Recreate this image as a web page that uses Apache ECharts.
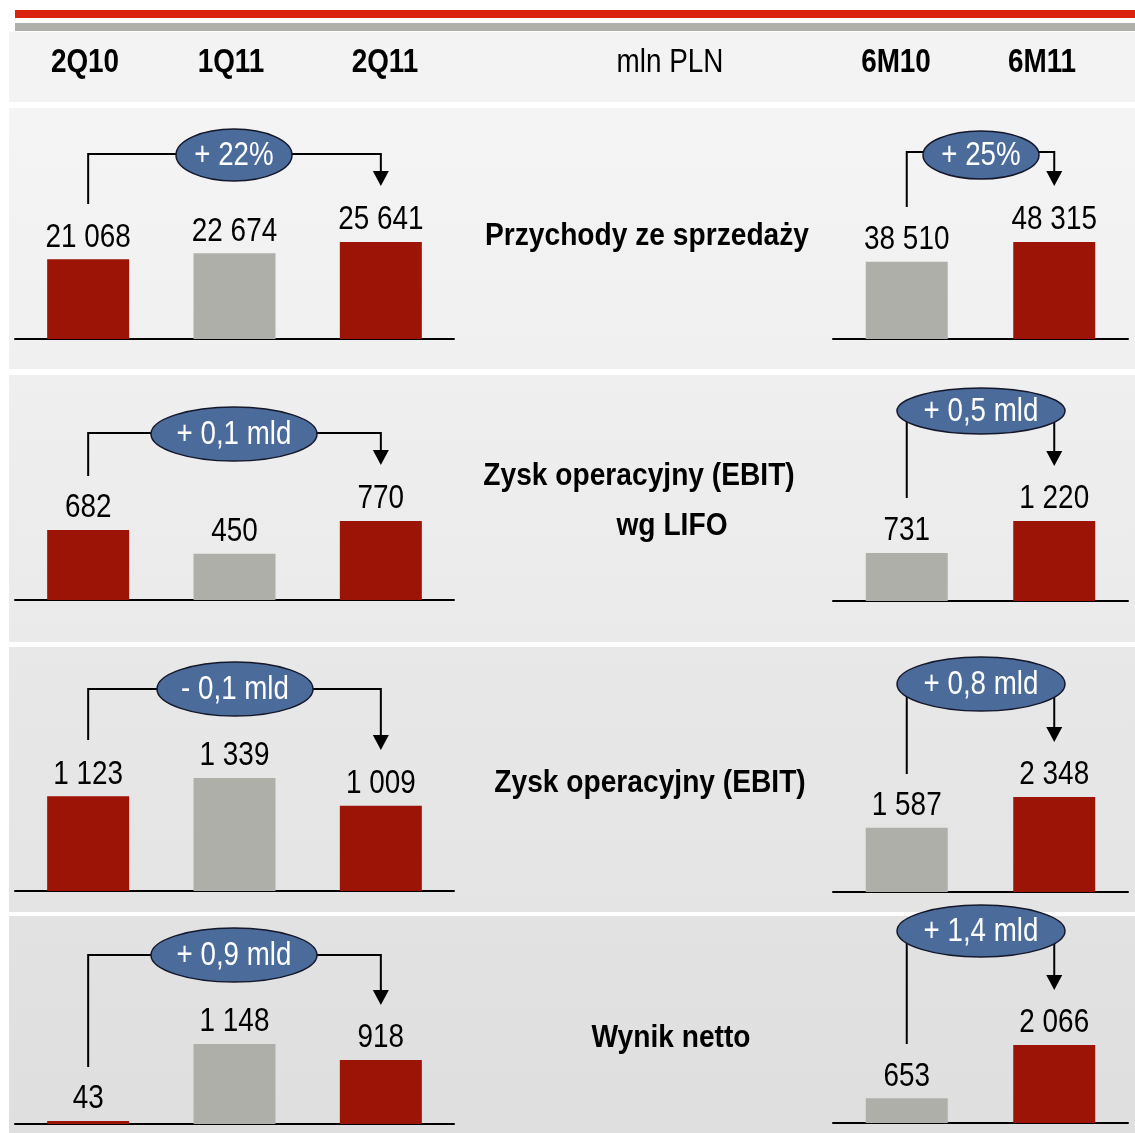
<!DOCTYPE html>
<html>
<head>
<meta charset="utf-8">
<script src="https://cdn.jsdelivr.net/npm/echarts@6/dist/echarts.min.js"></script>
<style>
  html, body { margin: 0; padding: 0; background: #fff; }
  #chart { width: 1135px; height: 1133px; }
</style>
</head>
<body>
<div id="chart"></div>
<script>
const quarters = ["2Q10", "1Q11", "2Q11"];
const halves = ["6M10", "6M11"];
const unitLabel = "mln PLN";
const metrics = ["Przychody ze sprzedaży", "Zysk operacyjny (EBIT)", "Zysk operacyjny (EBIT)", "Wynik netto"];
const metricSub = ["", "wg LIFO", "", ""];

const revenueQ = [21068, 22674, 25641];
const revenueH = [38510, 48315];
const ebitLifoQ = [682, 450, 770];
const ebitLifoH = [731, 1220];
const ebitQ = [1123, 1339, 1009];
const ebitH = [1587, 2348];
const netQ = [43, 1148, 918];
const netH = [653, 2066];

const changeQ = ["+ 22%", "+ 0,1 mld", "- 0,1 mld", "+ 0,9 mld"];
const changeH = ["+ 25%", "+ 0,5 mld", "+ 0,8 mld", "+ 1,4 mld"];

const seriesQ = [revenueQ, ebitLifoQ, ebitQ, netQ];
const seriesH = [revenueH, ebitLifoH, ebitH, netH];

const RED = "#9b1405";
const GREY = "#afafaa";
const BLUE = "#4b6b9b";
// no narrow font installed: Arial-metric Liberation Sans squeezed horizontally
const FONT = "'Liberation Sans', Arial, sans-serif";
const SQUEEZE = 0.82;

// panel layout (pixels)
const rows = [
  { top: 108, bottom: 369, c1: "#f4f4f4", c2: "#f0f0f0", baseQ: 339, baseH: 339, maxQ: 52870, maxH: 99620, titleY: 236, titleX: 647,
    q: { startY: 204, lineY: 154, cx: 234, cy: 155, rx: 58, ry: 26, tipY: 186 },
    h: { startY: 207, lineY: 152, cx: 981, cy: 155, rx: 58, ry: 24, tipY: 186 } },
  { top: 375, bottom: 642, c1: "#efefef", c2: "#eaeaea", baseQ: 600, baseH: 601, maxQ: 1949, maxH: 3050, titleY: 476, titleX: 639,
    q: { startY: 476, lineY: 433, cx: 234, cy: 434, rx: 83, ry: 27, tipY: 465 },
    h: { startY: 498, lineY: 411, cx: 981, cy: 411, rx: 84, ry: 23, tipY: 466 } },
  { top: 647, bottom: 912, c1: "#e8e8e8", c2: "#e4e4e4", baseQ: 891, baseH: 892, maxQ: 2370, maxH: 4943, titleY: 783, titleX: 650,
    q: { startY: 740, lineY: 689, cx: 235, cy: 689, rx: 78, ry: 27, tipY: 750 },
    h: { startY: 774, lineY: 684, cx: 981, cy: 684, rx: 84, ry: 27, tipY: 742 } },
  { top: 916, bottom: 1133, c1: "#e2e2e2", c2: "#dfdfdf", baseQ: 1124, baseH: 1123, maxQ: 2870, maxH: 5297, titleY: 1038, titleX: 671,
    q: { startY: 1067, lineY: 955, cx: 234, cy: 955, rx: 83, ry: 27, tipY: 1005 },
    h: { startY: 1044, lineY: 931, cx: 981, cy: 931, rx: 84, ry: 26, tipY: 990 } }
];

const GRID_H = 200;
const fmt = (v) => String(v).replace(/\B(?=(\d{3})+(?!\d))/g, " ");

function narrowText(x, y, text, size, weight, fill, valign, z, squeeze) {
  return {
    type: "text", z: z || 5, x, y, scaleX: squeeze || SQUEEZE, silent: true,
    style: { text, fill, font: `${weight} ${size}px ${FONT}`, textAlign: "center", textVerticalAlign: valign || "middle" }
  };
}

const chart = echarts.init(document.getElementById("chart"), null, { renderer: "canvas" });

const grids = [], xAxes = [], yAxes = [], series = [], labelSets = [];
rows.forEach((row, r) => {
  [[row.baseQ, row.maxQ, quarters, seriesQ[r], 15, 439, [RED, GREY, RED]],
   [row.baseH, row.maxH, halves, seriesH[r], 833, 295, [GREY, RED]]].forEach(([base, max, cats, vals, left, width, colors]) => {
    const idx = grids.length;
    grids.push({ left, width, top: base - GRID_H, height: GRID_H });
    xAxes.push({
      type: "category", gridIndex: idx, data: cats,
      axisLine: { lineStyle: { color: "#000", width: 2 } },
      axisTick: { show: false }, axisLabel: { show: false }
    });
    yAxes.push({ type: "value", gridIndex: idx, min: 0, max, show: false, splitLine: { show: false } });
    series.push({
      type: "bar", xAxisIndex: idx, yAxisIndex: idx, barWidth: 82,
      data: vals,
      itemStyle: { color: (p) => colors[p.dataIndex] },
      label: { show: false },
      silent: true
    });
    labelSets.push({ idx, cats, vals });
  });
});

const graphics = [
  { type: "rect", z: -10, shape: { x: 15, y: 10, width: 1120, height: 8 }, style: { fill: "#d9230f" } },
  { type: "rect", z: -10, shape: { x: 15, y: 23, width: 1120, height: 8 }, style: { fill: "#b0b0aa" } },
  { type: "rect", z: -10, shape: { x: 9, y: 32, width: 1126, height: 70 }, style: { fill: "#f3f3f3" } }
];

[[quarters[0], 85, "bold"], [quarters[1], 231, "bold"], [quarters[2], 385, "bold"],
 [unitLabel, 670, "normal"], [halves[0], 896, "bold"], [halves[1], 1042, "bold"]].forEach(([t, x, w]) => {
  graphics.push(narrowText(x, 63, t, 34, w, "#000"));
});

function connector(c, leftX, rightX, label) {
  return [
    {
      type: "polyline", z: 5,
      shape: { points: [[leftX, c.startY], [leftX, c.lineY], [c.cx, c.lineY], [rightX, c.lineY], [rightX, c.tipY - 14]] },
      style: { stroke: "#000", lineWidth: 2, fill: null }
    },
    {
      type: "polygon", z: 5,
      shape: { points: [[rightX - 8, c.tipY - 15], [rightX + 8, c.tipY - 15], [rightX, c.tipY]] },
      style: { fill: "#000" }
    },
    {
      type: "ellipse", z: 6,
      shape: { cx: c.cx, cy: c.cy, rx: c.rx, ry: c.ry },
      style: { fill: BLUE, stroke: "#15182a", lineWidth: 1.5 }
    },
    narrowText(c.cx, c.cy + 1, label, 33, "normal", "#fff", "middle", 7, 0.84)
  ];
}

chart.setOption({
  backgroundColor: "#fff",
  animation: false,
  grid: grids, xAxis: xAxes, yAxis: yAxes, series
});

rows.forEach((row, r) => {
  const gq = r * 2, gh = r * 2 + 1;
  const qL = chart.convertToPixel({ xAxisIndex: gq }, quarters[0]);
  const qR = chart.convertToPixel({ xAxisIndex: gq }, quarters[2]);
  const hL = chart.convertToPixel({ xAxisIndex: gh }, halves[0]);
  const hR = chart.convertToPixel({ xAxisIndex: gh }, halves[1]);

  graphics.push({
    type: "rect", z: -10,
    shape: { x: 9, y: row.top, width: 1126, height: row.bottom - row.top },
    style: { fill: new echarts.graphic.LinearGradient(0, 0, 0, 1, [{ offset: 0, color: row.c1 }, { offset: 1, color: row.c2 }]) }
  });
  graphics.push(narrowText(row.titleX, row.titleY, metrics[r], 32, "bold", "#000", "middle", 5, 0.88));
  if (metricSub[r]) graphics.push(narrowText(672, row.titleY + 50, metricSub[r], 32, "bold", "#000", "middle", 5, 0.88));
  connector(row.q, qL, qR, changeQ[r]).forEach((g) => graphics.push(g));
  connector(row.h, hL, hR, changeH[r]).forEach((g) => graphics.push(g));
});

// value labels placed from the bars' own scale positions
labelSets.forEach(({ idx, cats, vals }) => {
  vals.forEach((v, i) => {
    const [px, py] = chart.convertToPixel({ gridIndex: idx }, [cats[i], v]);
    graphics.push(narrowText(px, py - 5, fmt(v), 34, "normal", "#000", "bottom"));
  });
});

chart.setOption({ graphic: { elements: graphics } });
</script>
</body>
</html>
